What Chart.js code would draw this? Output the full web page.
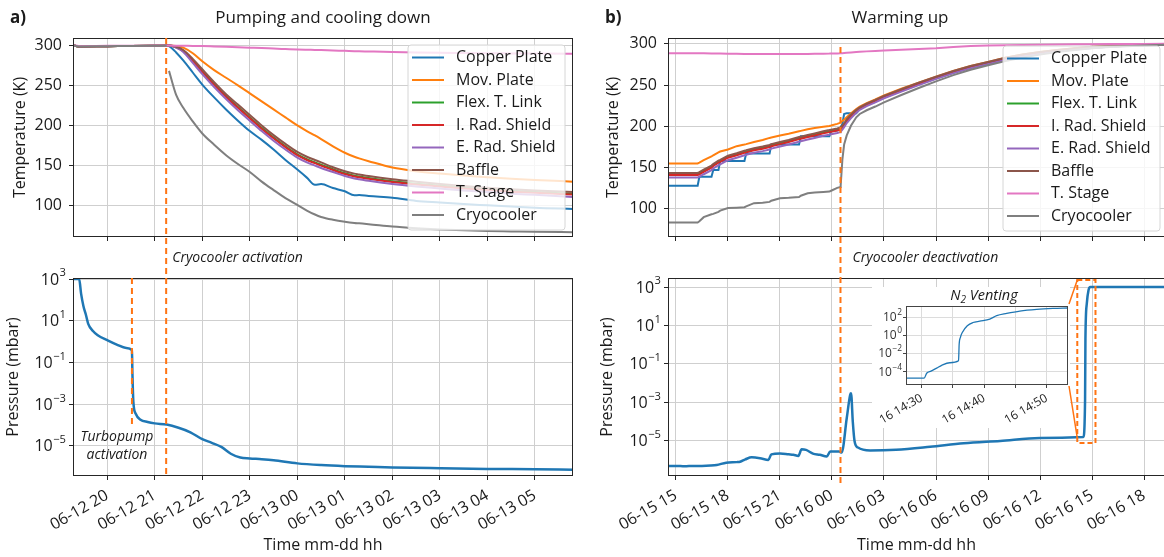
<!DOCTYPE html>
<html><head><meta charset="utf-8">
<script src="https://cdn.jsdelivr.net/npm/chart.js@4/dist/chart.umd.min.js"></script>
<style>
html,body{margin:0;padding:0;background:#fff;}
#wrap{position:relative;width:1164px;height:557px;overflow:hidden;background:#fff;}
#wrap canvas{position:absolute;left:0;top:0;}
</style></head><body>
<div id="wrap">
<canvas id="cAT" width="1172" height="557"></canvas>
<canvas id="cAP" width="1172" height="557"></canvas>
<canvas id="cBT" width="1172" height="557"></canvas>
<canvas id="cBP" width="1172" height="557"></canvas>
<canvas id="cIN" width="1172" height="557"></canvas>
</div>
<script>
// ---------------- DATA ----------------
const seriesNames = ['Copper Plate','Mov. Plate','Flex. T. Link','I. Rad. Shield','E. Rad. Shield','Baffle','T. Stage','Cryocooler'];
const seriesColors = ['#1f77b4','#ff7f0e','#2ca02c','#d62728','#9467bd','#8c564b','#e377c2','#7f7f7f'];

// Panel a) x = hours since 06-12 00:00
const aTickHours = [20,21,22,23,24,25,26,27,28,29];
const aTickLabels = ['06-12 20','06-12 21','06-12 22','06-12 23','06-13 00','06-13 01','06-13 02','06-13 03','06-13 04','06-13 05'];
const aTempTime = [19.28,19.4,20,20.5,21,21.25,21.27,21.3,21.45,21.6,21.8,22,22.25,22.5,22.75,23,23.25,23.5,23.75,24,24.2,24.37,24.5,24.75,25,25.2,25.3,25.5,26,26.5,27,27.5,28,28.5,29,29.8];
const aCopper = [300,298.5,298.8,299,299.3,299.5,299.5,299,291,281,266,251,235,220,206,193,182,170,157,145,135,126,127,122,118,113,113.3,112,110,106,104,102,100.5,99,97.5,96];
const aMov    = [300,298.5,298.8,299,299.3,299.5,299.5,299.5,299,297,290,280,269,259.5,250,240,230,220,210,200,193,187.5,183,174,166,161,159,155.5,147.5,143,140,137.5,135.5,133.5,132,130];
const aFlex   = [300,298.5,298.8,299,299.3,299.5,299.5,299.5,297.5,293,281,267.5,251.5,236.5,223,210,197,185,174,164,158,154,151,145.5,140.5,137.5,136.5,134.5,130.5,127.5,125,122.5,120.5,118.5,117,115];
const aIRad   = [300,298.5,298.8,299,299.3,299.5,299.5,299.5,297.3,292.5,280,266.5,250.5,235.5,222,209,196,184,173,163,157,153,150,144.5,139.5,136.5,135.5,133.5,129.5,126.5,124,121.5,119.5,117.5,116,114];
const aERad   = [300,298.5,298.8,299,299.3,299.5,299.5,299.5,297,291.5,278,264,248,233,219,206,193,181,170,160,154,150,147,142,137,134,133,131,127,124,121.5,119,117,115,113.5,111];
const aBaffle = [300,298.5,298.8,299,299.3,299.5,299.5,299.5,298,294,283,270,254,239,226,213,200,188,177,167,161,157,154,148,143,140,139,137,133,130,127,124.5,122.5,120.5,119,117];
const aTStage = [300,299,299.2,299.3,299.5,299.6,299.6,299.5,299.4,299.3,299.1,299,298.5,298,297.5,297,296.5,295.8,295.2,294.6,294.3,294.1,293.9,293.4,293,292.6,292.5,292.2,291.5,291,290.6,290.3,290,289.8,289.6,289.4];
const aCryo   = [300,298.5,298.8,299,299.3,299.5,null,268,238,222,205,190,176,163,152,142,130,119.5,109.5,101,94,89,86,82.5,80,78.5,78,77,74,72,70.5,69.5,68.5,68,67.5,67];
const aPresTime = [19.28,19.41,19.45,19.5,19.55,19.6,19.7,19.8,20,20.2,20.4,20.52,20.53,20.55,20.6,20.7,20.85,21,21.25,21.5,21.75,22,22.2,22.4,22.6,22.8,23,23.25,23.5,24,24.5,25,25.5,26,27,28,29,29.8];
const aPres = [1000,1000,200,50,20,7.1,3.2,2.0,1.17,0.72,0.5,0.39,0.032,1.3e-3,3.5e-4,1.8e-4,1.4e-4,1.2e-4,1.05e-4,7.4e-5,4.5e-5,2.1e-5,1.4e-5,8.9e-6,4.2e-6,2.75e-6,2.5e-6,2.3e-6,2.05e-6,1.45e-6,1.2e-6,1.07e-6,1.0e-6,9.3e-7,8.5e-7,7.9e-7,7.6e-7,7.2e-7];
const aCryoOnHour = 21.24;
const aTurboOnHour = 20.52;
const aTurboLineEnd = 8e-5;

// Panel b) x = hours since 06-15 00:00
const bTickHours = [15,18,21,24,27,30,33,36,39,42];
const bTickLabels = ['06-15 15','06-15 18','06-15 21','06-16 00','06-16 03','06-16 06','06-16 09','06-16 12','06-16 15','06-16 18'];
const bTempTime = [14.54,16.25,16.35,16.6,17.05,17.15,17.45,17.55,18,18.5,18.95,19.05,19.5,20,20.4,20.5,21,21.5,22.1,22.2,22.6,23,23.5,23.85,23.95,24.3,24.49,24.5,24.6,24.7,24.85,25.1,25.4,25.6,26,26.5,27,28,29,30,31,32,33,34,35,36,37,38,39,40,41,42,43.2];
const bCopper = [128,128,139,139,139,147,147,158,158,158,158,167,167,167,167,178,178,178,178,188,188,188,188,188,194,195,198,199,203,215,216,216,216,221,226,230,235,243,251,258,265,271,276,281,285,288,291,293,295,296.5,297.5,298.3,299];
const bMov    = [155,155,156,159,163.5,165,168.5,169.5,172,176,178,178.5,181,183.5,186,186.5,189,191,194,194.5,196.5,198,199.5,200.5,201,203,204.5,205,206.5,208,211,216,221,224,228,232.5,237.5,245.5,253,260,267,273,278,283,287,290,292.5,294.5,296.5,297.5,298.3,299,299.5];
const bFlex   = [142,142,143,146,151,153,157,158,163,166,169,169.5,172,174,176,177,179.5,182,185.5,186,188,190,192.5,194,194.5,196,197,197.5,199.5,202,207,213,219,222,226.5,231,236,244,252,259,266,272,277,282,286,289,292,294,296,297,298,298.7,299.2];
const bIRad   = [141,141,142,145,150,152,156,157,162,165,168,168.5,171,173,175,176,178.5,181,184.5,185,187,189,191.5,193,193.5,195,196,196.5,198.5,201,206,212,218,221.5,226,230.5,235.5,243.5,251.5,258.5,265.5,271.5,276.5,281.5,285.5,288.5,291.5,293.5,295.5,296.5,297.5,298.3,299];
const bERad   = [138,138,139,142,147,149,153,154,159,162,165,165.5,168,170,172,173,175.5,178,181.5,182,184,186,188.5,190,190.5,192,193,193.5,196,199,204,210,216.5,220,224.5,229,234,242,250,257.5,264.5,270.5,275.5,280.5,284.5,288,291,293,295,296.3,297.3,298,298.8];
const bBaffle = [143.5,143.5,144.5,147.5,152.5,154.5,158.5,159.5,164.5,167.5,170.5,171,173.5,175.5,177.5,178.5,181,183.5,187,187.5,189.5,191.5,194,195.5,196,197.5,198.5,199,201,203.5,208.5,214.5,220,223,227.5,232,237,245,253,260,267,273,278,283,287,290,292.5,294.5,296.3,297.3,298.2,298.9,299.4];
const bTStage = [288.5,288.5,288.5,288.4,288.3,288.3,288.2,288.2,288,287.8,287.7,287.7,287.6,287.5,287.5,287.5,287.5,287.5,287.6,287.6,287.7,287.8,288,288.1,288.2,288.3,288.4,288.4,288.6,288.8,289.1,289.5,290,290.3,290.8,291.3,291.8,292.7,293.6,294.6,296.2,297.2,297.8,298.3,298.6,298.9,299.1,299.3,299.5,299.6,299.7,299.8,299.9];
const bCryo   = [83.5,83.5,85,90,93.5,94,96.5,98,101,101.5,102,103,107,107.5,108.5,110,113,113.5,114.5,116,119,120,120.5,121,122,125.5,126.5,128,160,178,189,201,211,215,219.5,224,229,238,246.5,254.5,262,268.5,274,279,283.5,287,290,292.5,294.5,296,297,298,298.8];
const bPresTime = [14.54,15,15.5,16,16.5,17,17.35,17.9,18.5,18.7,19.0,19.37,19.85,20.33,20.5,21,21.5,21.77,22.06,22.25,22.5,22.9,23.3,23.7,23.9,24.4,24.56,24.85,25.05,25.1,25.2,25.3,25.5,26.2,27.7,29.66,31.6,33.7,36,38.5,38.6,38.62,38.7,38.8,38.9,43.2];
const bPres = [5.0e-7,5.0e-7,4.8e-7,5.0e-7,5.0e-7,5.2e-7,5.6e-7,7.4e-7,7.9e-7,8.3e-7,1.1e-6,1.4e-6,1.26e-6,1.02e-6,2.0e-6,2.2e-6,2.0e-6,1.9e-6,1.66e-6,3.7e-6,3.4e-6,2.2e-6,1.9e-6,1.55e-6,2.8e-6,2.8e-6,2.5e-6,1.5e-4,2.5e-3,3.0e-3,1.0e-4,1.0e-5,4.5e-6,3.2e-6,3.5e-6,5.0e-6,7.6e-6,1.0e-5,1.4e-5,1.6e-5,1.5e-3,2.0,140,700,1000,1000];
const bCryoOffHour = 24.49;
const ventBoxHours = [38.15, 39.2];
const ventBoxPres = [7.9e-6, 2.3e3];

// Inset: x = minutes after 06-16 14:00
const venTickMin = [30,35,40,45,50];
const venTickLabels = ['16 14:30','','16 14:40','','16 14:50'];
const venTime = [27.5,30.4,30.8,31.5,32.4,33.2,34.5,35.9,36.0,36.2,36.5,37.3,38.2,39.3,40.9,42.0,43.6,45.7,48.4,51.0,53.4];
const venPres = [1.8e-5,1.8e-5,6.3e-5,1.1e-4,2.3e-4,4.7e-4,9.1e-4,1.5e-3,0.1,0.58,2.0,11,25,35,59,141,250,457,708,891,1000];

const tempTicks = [100,150,200,250,300];
const presTickExp = [-5,-3,-1,1,3];
const venTickExp = [-4,-2,0,2];

// ---------------- HELPERS ----------------
const CW = 1172, CH = 557;
const FONT = "'Open Sans', 'DejaVu Sans', sans-serif";
const INK = '#1a1a1a', GRID = '#cfcfcf', SPINE = '#262626', MARK = '#ff7413';
Chart.defaults.font.family = FONT;
Chart.defaults.color = INK;

function pts(t, v) { return v.map((y, i) => ({x: t[i], y})); }
function ds(i, t, v, width, mono) {
  return { label: seriesNames[i], data: pts(t, v), borderColor: seriesColors[i], backgroundColor: seriesColors[i],
    borderWidth: width, pointRadius: 0, fill: false, order: 10 - i, tension: 0,
    cubicInterpolationMode: mono ? 'monotone' : 'default', spanGaps: false };
}
function presDS(t, v, width) {
  return { label: 'Pressure', data: pts(t, v), borderColor: '#1f77b4', borderWidth: width, pointRadius: 0,
    fill: false, tension: 0, cubicInterpolationMode: 'monotone' };
}

function build(id, o) {
  const deco = {
    id: 'deco',
    beforeDraw(ch) { if (o.before) o.before(ch); },
    afterDatasetsDraw(ch) {
      const {ctx, chartArea: a} = ch;
      ctx.save();
      ctx.strokeStyle = o.spine || SPINE; ctx.lineWidth = 1;
      ctx.strokeRect(Math.round(a.left) + 0.5, Math.round(a.top) + 0.5, Math.round(a.right - a.left) - 1, Math.round(a.bottom - a.top) - 1);
      ctx.restore();
      if (o.after) o.after(ch);
    }
  };
  const fs = o.fontSize || 16;
  return new Chart(document.getElementById(id), {
    type: 'line',
    data: { datasets: o.datasets },
    options: {
      responsive: false, animation: false, devicePixelRatio: 1, events: [],
      layout: { autoPadding: false, padding: { left: o.area.l - o.yw, top: o.area.t, right: CW - o.area.r, bottom: CH - o.area.b - o.xh } },
      plugins: { legend: { display: false }, tooltip: { enabled: false } },
      scales: {
        x: {
          type: 'linear', min: o.xMin, max: o.xMax,
          afterBuildTicks: s => { s.ticks = o.xTicks.map(v => ({ value: v })); },
          afterFit: s => { s.height = o.xh; s.paddingLeft = 0; s.paddingRight = 0; s.paddingTop = 0; s.paddingBottom = 0; },
          grid: { color: o.grid || GRID, lineWidth: 1, drawTicks: true, tickLength: o.tick || 4, tickColor: o.spine || SPINE, tickWidth: 1 },
          border: { display: false },
          ticks: { display: !!o.xLabels, autoSkip: false, maxRotation: 30, minRotation: 30, padding: o.xPad ?? 6, color: INK,
                   font: { size: fs }, callback: (v, i) => o.xLabels ? o.xLabels[i] : '' },
          title: o.xTitle ? { display: true, text: o.xTitle, color: INK, font: { size: 16 }, padding: { top: 0, bottom: 2.4 } } : { display: false }
        },
        y: {
          type: o.yType, min: o.yMin, max: o.yMax,
          afterBuildTicks: s => { s.ticks = o.yTicks.map(v => ({ value: v })); },
          afterFit: s => { s.width = o.yw; s.paddingTop = 0; s.paddingBottom = 0; s.paddingLeft = 0; s.paddingRight = 0; },
          grid: { color: o.grid || GRID, lineWidth: 1, drawTicks: true, tickLength: o.tick || 4, tickColor: o.spine || SPINE, tickWidth: 1 },
          border: { display: false },
          ticks: { display: !o.logExp, autoSkip: false, padding: o.yPad ?? 7, color: INK, font: { size: fs },
                   callback: (v, i) => o.yLabels ? o.yLabels[i] : String(v) },
          title: o.yTitle ? { display: true, text: o.yTitle, color: INK, font: { size: 16 }, padding: { top: o.yTitlePad, bottom: 0 } } : { display: false }
        }
      }
    },
    plugins: [deco]
  });
}

function logLabels(ch, exps, size, gap, color) {
  const {ctx, chartArea: a} = ch; const s = ch.scales.y;
  ctx.save(); ctx.fillStyle = color; ctx.textBaseline = 'middle'; ctx.textAlign = 'right';
  exps.forEach(e => {
    const y = s.getPixelForValue(Math.pow(10, e));
    const es = (e < 0 ? '\u2212' : '') + Math.abs(e);
    ctx.font = `${(size * 0.7).toFixed(1)}px ${FONT}`;
    const ew = ctx.measureText(es).width;
    const xr = a.left - gap;
    ctx.fillText(es, xr, y - size * 0.36);
    ctx.font = `${size}px ${FONT}`;
    ctx.fillText('10', xr - ew - 0.5, y + size * 0.06);
  });
  ctx.restore();
}

function drawLegend(ch, rightInset, topInset) {
  const {ctx, chartArea: a} = ch;
  const w = 157, h = 185, r = 3;
  const x0 = a.right - rightInset - w, y0 = a.top + topInset;
  ctx.save();
  ctx.beginPath();
  ctx.moveTo(x0 + r, y0); ctx.lineTo(x0 + w - r, y0); ctx.arcTo(x0 + w, y0, x0 + w, y0 + r, r);
  ctx.lineTo(x0 + w, y0 + h - r); ctx.arcTo(x0 + w, y0 + h, x0 + w - r, y0 + h, r);
  ctx.lineTo(x0 + r, y0 + h); ctx.arcTo(x0, y0 + h, x0, y0 + h - r, r);
  ctx.lineTo(x0, y0 + r); ctx.arcTo(x0, y0, x0 + r, y0, r); ctx.closePath();
  ctx.fillStyle = 'rgba(255,255,255,0.8)'; ctx.fill();
  ctx.strokeStyle = '#d6d6d6'; ctx.lineWidth = 1; ctx.stroke();
  ctx.font = `16px ${FONT}`; ctx.textBaseline = 'middle'; ctx.textAlign = 'left';
  ch.data.datasets.forEach((d, i) => {
    const y = y0 + 12.5 + i * 22.5;
    ctx.strokeStyle = d.borderColor; ctx.lineWidth = 2;
    ctx.beginPath(); ctx.moveTo(x0 + 4, y); ctx.lineTo(x0 + 36, y); ctx.stroke();
    ctx.fillStyle = INK; ctx.fillText(d.label, x0 + 48, y);
  });
  ctx.restore();
}

function vdash(ctx, x, y1, y2, lw) {
  ctx.save(); ctx.strokeStyle = MARK; ctx.lineWidth = lw || 2; ctx.setLineDash([6, 4]);
  ctx.beginPath(); ctx.moveTo(x, y1); ctx.lineTo(x, y2); ctx.stroke(); ctx.restore();
}
function text(ctx, s, x, y, font, align) {
  ctx.save(); ctx.font = font; ctx.fillStyle = INK; ctx.textAlign = align || 'left'; ctx.textBaseline = 'middle';
  ctx.fillText(s, x, y); ctx.restore();
}

// ---------------- PANEL a) ----------------
const A_L = 73, A_R = 573, B_L = 668, B_R = 1165;
const tempSets = (t, arrs, mono) => arrs.map((v, i) => ds(i, t, v, 2, mono));

const AT = build('cAT', {
  area: { l: A_L, r: A_R, t: 38, b: 237 }, yw: 73, xh: 6,
  datasets: tempSets(aTempTime, [aCopper, aMov, aFlex, aIRad, aERad, aBaffle, aTStage, aCryo], true),
  xMin: 19.28, xMax: 29.8, xTicks: aTickHours,
  yType: 'linear', yMin: 61, yMax: 309, yTicks: tempTicks, yLabels: tempTicks.map(String),
  yTitle: 'Temperature (K)', yTitlePad: 10.4, yPad: 7,
  after(ch) {
    drawLegend(ch, 8, 7);
    const c = ch.ctx;
    text(c, 'a)', 10, 18, `bold 17px ${FONT}`);
    text(c, 'Pumping and cooling down', (ch.chartArea.left + ch.chartArea.right) / 2, 18, `17px ${FONT}`, 'center');
  }
});

const AP = build('cAP', {
  area: { l: A_L, r: A_R, t: 278, b: 476 }, yw: 73, xh: 81,
  datasets: [presDS(aPresTime, aPres, 2.5)],
  xMin: 19.28, xMax: 29.8, xTicks: aTickHours, xLabels: aTickLabels, xTitle: 'Time mm-dd hh',
  yType: 'logarithmic', yMin: 3.6e-7, yMax: 1.12e3, yTicks: presTickExp.map(e => Math.pow(10, e)), logExp: true,
  yTitle: 'Pressure (mbar)', yTitlePad: 3.7,
  after(ch) {
    const c = ch.ctx, a = ch.chartArea, xs = ch.scales.x;
    logLabels(ch, presTickExp, 16, 7, INK);
    const xc = xs.getPixelForValue(aCryoOnHour);
    vdash(c, xc, AT.chartArea.top, a.bottom);
    const xt = xs.getPixelForValue(aTurboOnHour);
    vdash(c, xt, a.top, ch.scales.y.getPixelForValue(aTurboLineEnd));
    text(c, 'Cryocooler activation', xc + 6, AT.chartArea.bottom + 21, `italic 14px ${FONT}`);
    text(c, 'Turbopump', xt - 15, a.bottom - 39, `italic 14px ${FONT}`, 'center');
    text(c, 'activation', xt - 15, a.bottom - 21, `italic 14px ${FONT}`, 'center');
  }
});

// ---------------- PANEL b) ----------------
const BT = build('cBT', {
  area: { l: B_L, r: B_R, t: 38, b: 237 }, yw: 73, xh: 6,
  datasets: tempSets(bTempTime, [bCopper, bMov, bFlex, bIRad, bERad, bBaffle, bTStage, bCryo], false),
  xMin: 14.54, xMax: 43.21, xTicks: bTickHours,
  yType: 'linear', yMin: 66, yMax: 307, yTicks: tempTicks, yLabels: tempTicks.map(String),
  yTitle: 'Temperature (K)', yTitlePad: 9, yPad: 7,
  after(ch) {
    drawLegend(ch, 5, 8);
    const c = ch.ctx;
    text(c, 'b)', 605, 18, `bold 17px ${FONT}`);
    text(c, 'Warming up', 900, 18, `17px ${FONT}`, 'center');
  }
});

const BP = build('cBP', {
  area: { l: B_L, r: B_R, t: 278, b: 476 }, yw: 73, xh: 81,
  datasets: [presDS(bPresTime, bPres, 2.5)],
  xMin: 14.54, xMax: 43.21, xTicks: bTickHours, xLabels: bTickLabels, xTitle: 'Time mm-dd hh',
  yType: 'logarithmic', yMin: 1.5e-7, yMax: 2.95e3, yTicks: presTickExp.map(e => Math.pow(10, e)), logExp: true,
  yTitle: 'Pressure (mbar)', yTitlePad: 3,
  after(ch) {
    const c = ch.ctx, a = ch.chartArea, xs = ch.scales.x, ys = ch.scales.y;
    logLabels(ch, presTickExp, 16, 7, INK);
    const xc = xs.getPixelForValue(bCryoOffHour);
    vdash(c, xc, BT.scales.y.getPixelForValue(296), a.bottom + 8);
    text(c, 'Cryocooler deactivation', xc + 12, BT.chartArea.bottom + 21, `italic 14px ${FONT}`);
    const bx1 = xs.getPixelForValue(ventBoxHours[0]), bx2 = xs.getPixelForValue(ventBoxHours[1]);
    const by1 = ys.getPixelForValue(ventBoxPres[1]), by2 = ys.getPixelForValue(ventBoxPres[0]);
    c.save(); c.strokeStyle = MARK; c.lineWidth = 2; c.setLineDash([5, 3]);
    c.strokeRect(bx1, by1, bx2 - bx1, by2 - by1); c.restore();
  }
});

// ---------------- INSET ----------------
const IN = build('cIN', {
  area: { l: 906, r: 1068, t: 306, b: 385 }, yw: 40, xh: 45, fontSize: 12, tick: 3, xPad: 3,
  grid: '#dcdcdc', spine: '#444',
  datasets: [presDS(venTime, venPres, 1.3)],
  xMin: 27.5, xMax: 53.4, xTicks: venTickMin, xLabels: venTickLabels,
  yType: 'logarithmic', yMin: 3.2e-6, yMax: 1.66e3, yTicks: venTickExp.map(e => Math.pow(10, e)), logExp: true,
  before(ch) {
    const c = ch.ctx, a = ch.chartArea;
    c.save(); c.fillStyle = '#fff';
    c.fillRect(a.left - 34, a.top - 19, a.right - a.left + 36, a.bottom - a.top + 62);
    c.restore();
  },
  after(ch) {
    const c = ch.ctx, a = ch.chartArea;
    logLabels(ch, venTickExp, 12, 4, '#333');
    // title N2 Venting
    c.save(); c.fillStyle = INK; c.textBaseline = 'alphabetic'; c.textAlign = 'left';
    const f1 = `italic 14.5px ${FONT}`, f2 = `italic 10px ${FONT}`;
    c.font = f1; const wN = c.measureText('N').width, wV = c.measureText(' Venting').width;
    c.font = f2; const w2 = c.measureText('2').width;
    const tw = wN + w2 + wV; let x = (a.left + a.right) / 2 - tw / 2 - 3; const yb = a.top - 6;
    c.font = f1; c.fillText('N', x, yb); x += wN;
    c.font = f2; c.fillText('2', x, yb + 3); x += w2;
    c.font = f1; c.fillText(' Venting', x, yb);
    c.restore();
    // connectors to zoom box
    const xs = BP.scales.x, ys = BP.scales.y;
    const bx = xs.getPixelForValue(ventBoxHours[0]);
    c.save(); c.strokeStyle = MARK; c.lineWidth = 1.5;
    c.beginPath(); c.moveTo(a.right + 1, a.top - 2); c.lineTo(bx, ys.getPixelForValue(ventBoxPres[1]));
    c.moveTo(a.right + 1, a.bottom + 1); c.lineTo(bx, ys.getPixelForValue(ventBoxPres[0]) - 5);
    c.stroke(); c.restore();
  }
});
</script>
</body></html>
